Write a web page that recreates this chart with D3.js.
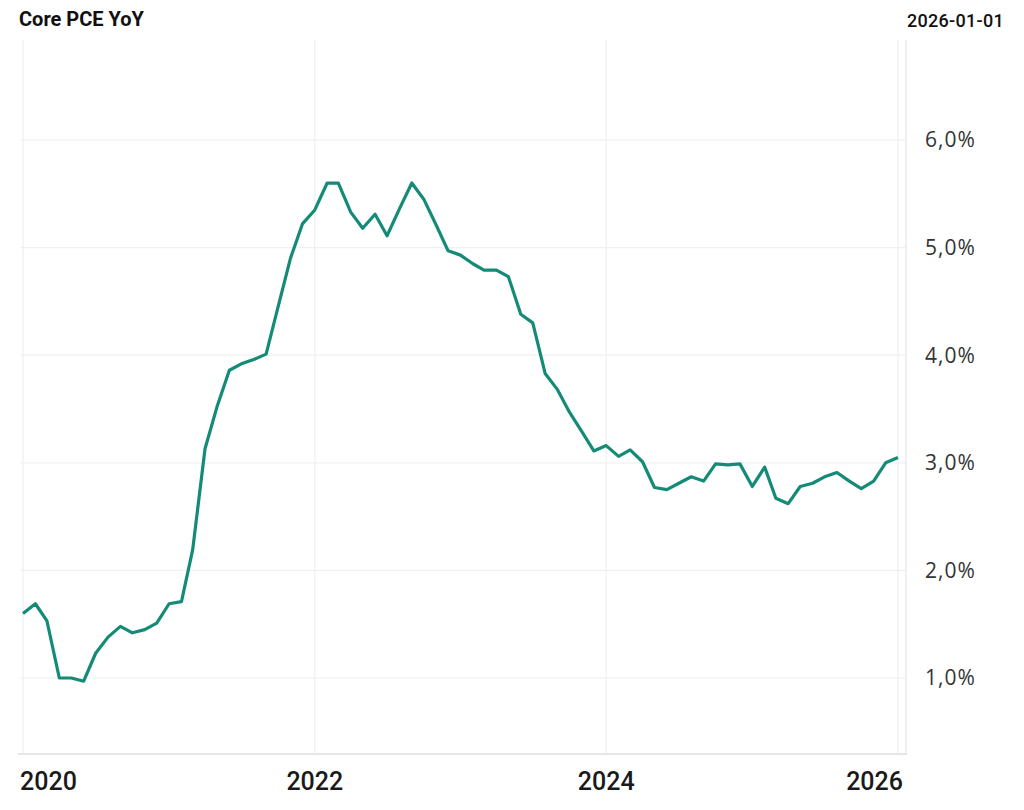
<!DOCTYPE html>
<html>
<head>
<meta charset="utf-8">
<script src="https://cdn.jsdelivr.net/npm/d3@7"></script>
<style>
  html, body { margin: 0; padding: 0; background: #ffffff; }
  svg { display: block; }
</style>
</head>
<body>
<svg id="chart" width="1024" height="810"></svg>
<script>
// ---- data ----
const title = "Core PCE YoY";
const lastDateLabel = "2026-01-01";
const startMonth = "2020-01-01";
const coreValues = [
  1.60, 1.69, 1.53, 1.00, 1.00, 0.97, 1.23, 1.38, 1.48, 1.42, 1.45, 1.51,
  1.69, 1.71, 2.19, 3.13, 3.52, 3.86, 3.92, 3.96, 4.01, 4.45, 4.90, 5.22,
  5.35, 5.60, 5.60, 5.33, 5.18, 5.31, 5.11, 5.36, 5.60, 5.45, 5.21, 4.97,
  4.93, 4.85, 4.79, 4.79, 4.73, 4.38, 4.30, 3.83, 3.68, 3.47, 3.29, 3.11,
  3.16, 3.06, 3.12, 3.01, 2.77, 2.75, 2.81, 2.87, 2.83, 2.99, 2.98, 2.99,
  2.78, 2.96, 2.67, 2.62, 2.78, 2.81, 2.87, 2.91, 2.83, 2.76, 2.83, 3.00,
  3.05
];
const yTicks = [1, 2, 3, 4, 5, 6];
const yTickLabels = ["1,0%", "2,0%", "3,0%", "4,0%", "5,0%", "6,0%"];
const xTickYears = ["2020-01-01", "2022-01-01", "2024-01-01", "2026-01-01"];
const xTickLabels = ["2020", "2022", "2024", "2026"];

// ---- layout ----
const svg = d3.select("#chart");
const parse = d3.utcParse("%Y-%m-%d");
const start = parse(startMonth);
const dates = coreValues.map((v, i) => d3.utcMonth.offset(start, i));
const series = coreValues.map((v, i) => ({ date: dates[i], value: v }));

const plotLeft = 23, plotRight = 906, plotTop = 40, plotBottom = 754;
const x = d3.scaleUtc()
  .domain([parse("2020-01-01"), parse("2026-01-01")])
  .range([plotLeft, 898]);
const y = d3.scaleLinear()
  .domain([1, 6])
  .range([678, 140]);

// horizontal gridlines
svg.append("g").selectAll("line").data(yTicks).join("line")
  .attr("x1", plotLeft - 3).attr("x2", plotRight)
  .attr("y1", d => y(d)).attr("y2", d => y(d))
  .attr("stroke", "#f0f0f0").attr("stroke-width", 1.2);

// vertical gridlines
const xTickDates = xTickYears.map(parse);
svg.append("g").selectAll("line").data(xTickDates).join("line")
  .attr("x1", d => x(d)).attr("x2", d => x(d))
  .attr("y1", plotTop).attr("y2", plotBottom)
  .attr("stroke", "#efefef").attr("stroke-width", 1.2);

// right border
svg.append("line")
  .attr("x1", plotRight).attr("x2", plotRight)
  .attr("y1", plotTop).attr("y2", plotBottom)
  .attr("stroke", "#ebebeb").attr("stroke-width", 1.5);

// bottom axis line
svg.append("line")
  .attr("x1", 18).attr("x2", plotRight + 1)
  .attr("y1", plotBottom).attr("y2", plotBottom)
  .attr("stroke", "#e6e6e6").attr("stroke-width", 2);

// y labels
svg.append("g").selectAll("text").data(yTicks).join("text")
  .attr("x", 925).attr("y", d => y(d))
  .attr("dy", "0.35em")
  .attr("font-family", "Open Sans, sans-serif")
  .attr("font-size", 21).attr("letter-spacing", 1)
  .attr("fill", "#333")
  .text((d, i) => yTickLabels[i]);

// x labels (clamped to plot edges)
const xLab = svg.append("g").selectAll("text").data(xTickDates).join("text")
  .attr("y", 790)
  .attr("font-family", "Roboto, sans-serif")
  .attr("font-weight", 500)
  .attr("font-size", 25)
  .attr("fill", "#1a1a1a")
  .text((d, i) => xTickLabels[i]);
xLab.each(function(d) {
  const w = this.getComputedTextLength();
  let cx = x(d);
  cx = Math.max(20 + w / 2, Math.min(903 - w / 2, cx));
  d3.select(this).attr("x", cx).attr("text-anchor", "middle");
});

// line
const line = d3.line().x(d => x(d.date)).y(d => y(d.value));
svg.append("path").datum(series)
  .attr("d", line)
  .attr("fill", "none")
  .attr("stroke", "#148b76")
  .attr("stroke-width", 3.2)
  .attr("stroke-linejoin", "round");

// title & date
svg.append("text")
  .attr("x", 19).attr("y", 26)
  .attr("font-family", "Roboto, sans-serif")
  .attr("font-weight", 700).attr("font-size", 20)
  .attr("fill", "#111")
  .text(title);
svg.append("text")
  .attr("x", 1004).attr("y", 27).attr("text-anchor", "end")
  .attr("font-family", "Roboto, sans-serif")
  .attr("font-weight", 500).attr("font-size", 18)
  .attr("letter-spacing", 0.3)
  .attr("fill", "#111")
  .text(lastDateLabel);
</script>
</body>
</html>
